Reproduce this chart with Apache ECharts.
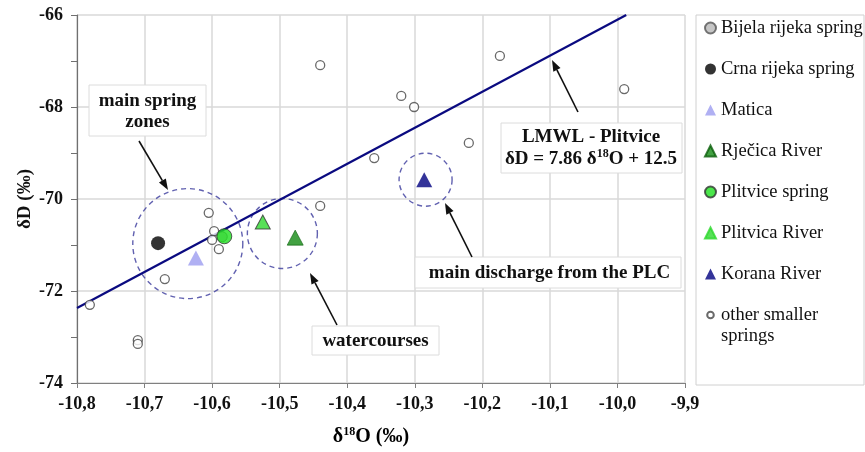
<!DOCTYPE html>
<html>
<head>
<meta charset="utf-8">
<script src="https://cdn.jsdelivr.net/npm/echarts@6/dist/echarts.min.js"></script>
<style>
html,body{margin:0;padding:0;background:#fff;}
#chart{width:865px;height:452px;}
</style>
</head>
<body>
<div id="chart"></div>
<script>
// ---- data ----
var xTicks = [-10.8, -10.7, -10.6, -10.5, -10.4, -10.3, -10.2, -10.1, -10.0, -9.9];
var yTicks = [-74, -72, -70, -68, -66];

var bijelaX = [-10.585];
var bijelaY = [-70.82];
var crnaX = [-10.680];
var crnaY = [-70.96];
var maticaX = [-10.624];
var maticaY = [-71.28];
var rjecicaX = [-10.477];
var rjecicaY = [-70.84];
var plitviceSpringX = [-10.582];
var plitviceSpringY = [-70.81];
var plitvicaRiverX = [-10.525];
var plitvicaRiverY = [-70.50];
var koranaX = [-10.286];
var koranaY = [-69.58];
var otherX = [-10.781, -10.710, -10.710, -10.670, -10.605, -10.597, -10.600, -10.590, -10.440, -10.440, -10.360, -10.320, -10.301, -10.220, -10.174, -9.990];
var otherY = [-72.30, -73.07, -73.15, -71.74, -70.30, -70.70, -70.89, -71.09, -67.09, -70.15, -69.11, -67.76, -68.00, -68.78, -66.89, -67.61];

// LMWL: dD = 7.86 d18O + 12.5 (end points)
var lmwlX = [-10.8, -9.987];
var lmwlY = [-72.37, -66.0];

// dashed zone circles (centres)
var zoneX = [-10.636, -10.496, -10.284];
var zoneY = [-70.97, -70.75, -69.58];

function pairs(xs, ys) { return xs.map(function (x, i) { return [x, ys[i]]; }); }

var FONT = "'Liberation Serif','Times New Roman',serif";

function arrow(x1, y1, x2, y2) {
  var ang = Math.atan2(y2 - y1, x2 - x1);
  var L = 11, W = 4;
  var bx = x2 - L * Math.cos(ang), by = y2 - L * Math.sin(ang);
  var px = -Math.sin(ang) * W, py = Math.cos(ang) * W;
  return [
    { type: 'line', shape: { x1: x1, y1: y1, x2: bx, y2: by }, style: { stroke: '#111', lineWidth: 1.6 }, z: 100 },
    { type: 'polygon', shape: { points: [[x2, y2], [bx + px, by + py], [bx - px, by - py]] }, style: { fill: '#111' }, z: 100 }
  ];
}
function box(x, y, w, h) {
  return { type: 'rect', shape: { x: x, y: y, width: w, height: h }, style: { fill: '#fff', stroke: '#dcdcdc', lineWidth: 1 }, z: 90 };
}
function txt(x, y, text, rich) {
  var st = { text: text, x: x, y: y, align: 'center', verticalAlign: 'middle', font: 'bold 19px ' + FONT, fill: '#111', lineHeight: 21 };
  if (rich) st.rich = rich;
  return { type: 'text', style: st, z: 101 };
}
var supRich = {
  b: { fontFamily: FONT, fontWeight: 'bold', fontSize: 19, lineHeight: 22, color: '#111' },
  s: { fontFamily: FONT, fontWeight: 'bold', fontSize: 12, lineHeight: 12, verticalAlign: 'top', color: '#111' }
};

var graphics = [
  { type: 'rect', shape: { x: 696, y: 15, width: 168, height: 370 }, style: { fill: 'none', stroke: '#d0d0d0', lineWidth: 1 }, z: 1 },
  { type: 'text', style: { text: 'springs', x: 721, y: 336, align: 'left', verticalAlign: 'middle', font: '18.5px ' + FONT, fill: '#111' }, z: 10 },
  { type: 'text', x: 25, y: 199, rotation: Math.PI / 2, style: { text: 'δD (‰)', x: 0, y: 0, align: 'center', verticalAlign: 'middle', font: 'bold 19px ' + FONT, fill: '#111' }, z: 10 },
  box(89, 85, 117, 51), txt(147.5, 111.5, 'main spring\nzones'),
  box(312, 326, 127, 29), txt(375.5, 341, 'watercourses'),
  box(415, 257, 266, 31), txt(549.5, 273, 'main discharge from the PLC'),
  box(501, 123, 181, 50), txt(591, 137, 'LMWL - Plitvice'),
  txt(591, 159, '{b|δD = 7.86 δ}{s|18}{b|O + 12.5}', supRich),
  { type: 'text', style: { text: '{b|δ}{s|18}{b|O (‰)}', x: 371, y: 437, align: 'center', verticalAlign: 'middle', rich: {
      b: { fontFamily: FONT, fontWeight: 'bold', fontSize: 20, lineHeight: 23, color: '#111' },
      s: { fontFamily: FONT, fontWeight: 'bold', fontSize: 12, lineHeight: 12, verticalAlign: 'top', color: '#111' } } }, z: 101 }
].concat(arrow(139, 141, 168, 190), arrow(337, 325, 310, 273), arrow(472, 257, 445, 203), arrow(578, 112, 552, 60));

var chart = echarts.init(document.getElementById('chart'), null, { renderer: 'canvas' });
chart.setOption({
  animation: false,
  backgroundColor: '#fff',
  grid: { left: 77, right: 180, top: 15, bottom: 69, containLabel: false },
  xAxis: {
    type: 'value', min: xTicks[0], max: xTicks[xTicks.length - 1], interval: 0.1,
    axisLine: { show: true, onZero: false, lineStyle: { color: '#808080', width: 1.2 } },
    axisTick: { show: true, length: 5, lineStyle: { color: '#808080' } },
    axisLabel: { margin: 12, color: '#111', fontFamily: FONT, fontWeight: 'bold', fontSize: 18,
      formatter: function (v) { return v.toFixed(1).replace('.', ','); } },
    splitLine: { show: true, lineStyle: { color: '#d8d8d8', width: 1.5 } }
  },
  yAxis: {
    type: 'value', min: yTicks[0], max: yTicks[yTicks.length - 1], interval: 2,
    axisLine: { show: true, onZero: false, lineStyle: { color: '#707070', width: 1.2 } },
    axisTick: { show: true, length: 6, lineStyle: { color: '#707070' } },
    minorTick: { show: true, splitNumber: 2, length: 6, lineStyle: { color: '#707070' } },
    axisLabel: { margin: 14, color: '#111', fontFamily: FONT, fontWeight: 'bold', fontSize: 18 },
    splitLine: { show: true, lineStyle: { color: '#d8d8d8', width: 1.5 } }
  },
  legend: {
    orient: 'vertical', left: 699, top: 13, itemGap: 21, itemWidth: 11, itemHeight: 11, itemTextGap: 6,
    textStyle: { color: '#111', fontFamily: FONT, fontSize: 18.5, lineHeight: 20 },
    formatter: function (n) { return n === 'other smaller springs' ? 'other smaller' : n; },
    data: [
      { name: 'Bijela rijeka spring', icon: 'circle' },
      { name: 'Crna rijeka spring', icon: 'circle', itemStyle: { color: '#000', borderColor: '#000' } },
      { name: 'Matica', icon: 'triangle' },
      { name: 'Rječica River', icon: 'triangle' },
      { name: 'Plitvice spring', icon: 'circle' },
      { name: 'Plitvica River', icon: 'triangle', itemStyle: { borderColor: '#2ed82e' } },
      { name: 'Korana River', icon: 'triangle' },
      { name: 'other smaller springs', icon: 'path://M0,0M20,20M10,4A6,6,0,1,1,9.99,4Z' }
    ]
  },
  graphic: graphics,
  series: [
    { name: 'LMWL', type: 'line', data: pairs(lmwlX, lmwlY), showSymbol: false, symbol: 'none', silent: true,
      lineStyle: { color: '#0a0a80', width: 2.2 }, z: 3 },
    { name: 'zones', type: 'scatter', data: pairs(zoneX, zoneY), silent: true,
      symbol: 'circle', symbolSize: function (v, p) { return [110, 70, 53][p.dataIndex]; },
      itemStyle: { color: 'rgba(0,0,0,0)', borderColor: '#3a3a9c', borderWidth: 1.4, borderType: [5, 4] }, z: 2 },
    { name: 'other smaller springs', type: 'scatter', data: pairs(otherX, otherY), symbol: 'circle', symbolSize: 9,
      itemStyle: { color: '#fff', borderColor: '#444', borderWidth: 1.3 }, z: 4 },
    { name: 'Bijela rijeka spring', type: 'scatter', data: pairs(bijelaX, bijelaY), symbol: 'circle', symbolSize: 10,
      itemStyle: { color: '#b8b8b8', borderColor: '#555', borderWidth: 1 }, z: 4 },
    { name: 'Crna rijeka spring', type: 'scatter', data: pairs(crnaX, crnaY), symbol: 'circle', symbolSize: 14,
      itemStyle: { color: '#000' }, z: 5 },
    { name: 'Matica', type: 'scatter', data: pairs(maticaX, maticaY), symbol: 'triangle', symbolSize: [16, 15],
      itemStyle: { color: '#9c9cf0' }, z: 5 },
    { name: 'Rječica River', type: 'scatter', data: pairs(rjecicaX, rjecicaY), symbol: 'triangle', symbolSize: [16, 15],
      itemStyle: { color: '#138a13', borderColor: '#0b5e0b', borderWidth: 0.8 }, z: 5 },
    { name: 'Plitvice spring', type: 'scatter', data: pairs(plitviceSpringX, plitviceSpringY), symbol: 'circle', symbolSize: 15,
      itemStyle: { color: '#1ee01e', borderColor: '#333', borderWidth: 1 }, z: 6 },
    { name: 'Plitvica River', type: 'scatter', data: pairs(plitvicaRiverX, plitvicaRiverY), symbol: 'triangle', symbolSize: [15, 14],
      itemStyle: { color: '#2ed82e', borderColor: '#333', borderWidth: 1 }, z: 5 },
    { name: 'Korana River', type: 'scatter', data: pairs(koranaX, koranaY), symbol: 'triangle', symbolSize: [16, 15],
      itemStyle: { color: '#00007f' }, z: 5 }
  ]
});
</script>
</body>
</html>
